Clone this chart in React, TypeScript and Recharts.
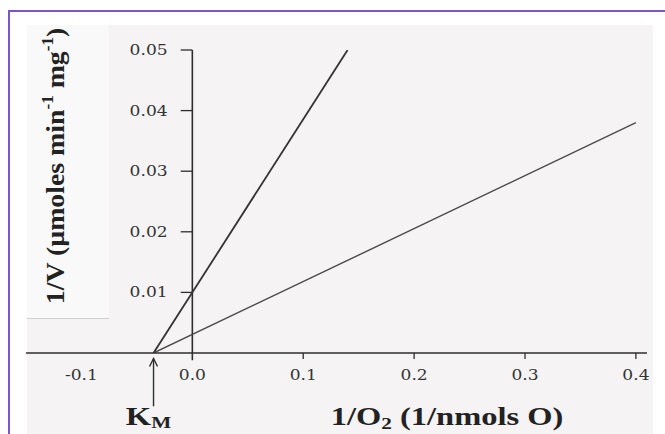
import { LineChart, Line, XAxis, YAxis, ReferenceLine } from 'recharts'

// Lineweaver-Burk plot
const km = -0.035

const steepX = [km, 0.14]
const steepY = [0, 0.05]
const shallowX = [km, 0.4]
const shallowY = [0, 0.038]

const xTicks = [-0.1, 0, 0.1, 0.2, 0.3, 0.4]
const xTickLabels = ['-0.1', '0.0', '0.1', '0.2', '0.3', '0.4']
const yTicks = [0.01, 0.02, 0.03, 0.04, 0.05]
const yTickLabels = ['0.01', '0.02', '0.03', '0.04', '0.05']

const steepData = steepX.map((x, i) => ({ x, y: steepY[i] }))
const shallowData = shallowX.map((x, i) => ({ x, y: shallowY[i] }))

const SERIF = '"Liberation Serif", "Times New Roman", serif'
const TICK_FONT = '"DejaVu Serif", serif'
const INK = '#2e2e2e'
const STRETCH = 1.14 // the scan is a bit wider than tall

function XTick(props: any) {
  const { x, y, payload } = props
  const idx = xTicks.indexOf(payload.value)
  const label = idx >= 0 ? xTickLabels[idx] : String(payload.value)
  const showMark = payload.value > 0
  return (
    <g>
      {showMark && <line x1={x} y1={y} x2={x} y2={y + 6} stroke={INK} strokeWidth={1.3} />}
      <text
        transform={`translate(${x},${y + 27}) scale(${STRETCH},1)`}
        textAnchor="middle"
        fontFamily={TICK_FONT}
        fontSize={15}
        fill="#333"
      >
        {label}
      </text>
    </g>
  )
}

function YTickLabel(props: any) {
  const { viewBox, text } = props
  if (!viewBox) return null
  return (
    <text
      transform={`translate(${viewBox.x - 13},${viewBox.y + 5}) scale(${STRETCH},1)`}
      textAnchor="end"
      fontFamily={TICK_FONT}
      fontSize={15}
      fill="#333"
    >
      {text}
    </text>
  )
}

function KmArrow(props: any) {
  const { x1, y1, y2 } = props
  const top = Math.min(y1, y2)
  const bottom = Math.max(y1, y2)
  return (
    <g>
      <line x1={x1} y1={top} x2={x1} y2={bottom} stroke={INK} strokeWidth={1.4} />
      <polyline
        points={`${x1 - 4},${top + 8} ${x1},${top} ${x1 + 4},${top + 8}`}
        fill="none"
        stroke={INK}
        strokeWidth={1.4}
      />
      <text
        transform={`translate(${x1 - 5},${bottom + 19}) scale(1.25,1)`}
        textAnchor="middle"
        fontFamily={SERIF}
        fontWeight="bold"
        fontSize={26}
        fill="#222"
      >
        K<tspan fontSize={17} dy={3}>M</tspan>
      </text>
    </g>
  )
}

export default function App() {
  return (
    <div style={{ position: 'absolute', left: 0, top: 0, width: 665, height: 434, background: '#fff', overflow: 'hidden' }}>
      {/* purple frame + scanned paper */}
      <div style={{ position: 'absolute', left: 8, top: 10, right: 0, bottom: 0, borderTop: '2px solid #7d55c4', borderLeft: '2px solid #7d55c4' }} />
      <div style={{ position: 'absolute', left: 27, top: 25, width: 626, height: 409, background: '#f5f3f4' }} />
      <div style={{ position: 'absolute', left: 27, top: 25, width: 82, height: 293, background: '#f9f9f9', borderBottom: '1px solid #d0d0d0' }} />

      <div style={{ position: 'absolute', left: 0, top: 0 }}>
        <LineChart width={665} height={434} margin={{ top: 50, right: 18, bottom: 41, left: 26 }}>
          <XAxis
            dataKey="x"
            type="number"
            domain={[-0.15, 0.41]}
            ticks={xTicks}
            height={40}
            tickSize={0}
            tickMargin={0}
            tickLine={false}
            axisLine={{ stroke: INK, strokeWidth: 1.6 }}
            tick={<XTick />}
            allowDataOverflow
          />
          <YAxis type="number" domain={[0, 0.05]} hide allowDataOverflow />

          {/* vertical axis through x = 0 */}
          <ReferenceLine
            segment={[{ x: 0, y: 0.05 }, { x: 0, y: -0.0012 }]}
            stroke={INK}
            strokeWidth={1.6}
            ifOverflow="visible"
          />
          {yTicks.map((v, i) => (
            <ReferenceLine
              key={v}
              segment={[{ x: -0.0105, y: v }, { x: 0, y: v }]}
              stroke={INK}
              strokeWidth={1.3}
              ifOverflow="visible"
              label={<YTickLabel text={yTickLabels[i]} />}
            />
          ))}

          <ReferenceLine
            segment={[{ x: km, y: -0.0009 }, { x: km, y: -0.0088 }]}
            ifOverflow="visible"
            shape={(p: any) => <KmArrow {...p} />}
          />

          <Line data={steepData} dataKey="y" type="linear" stroke="#333" strokeWidth={1.8} dot={false} isAnimationActive={false} />
          <Line data={shallowData} dataKey="y" type="linear" stroke="#4a4a4a" strokeWidth={1.4} dot={false} isAnimationActive={false} />
        </LineChart>
      </div>

      {/* axis titles */}
      <svg width={665} height={434} style={{ position: 'absolute', left: 0, top: 0, pointerEvents: 'none' }}>
        <text
          transform="translate(64,166) rotate(-90) scale(1.07,1)"
          textAnchor="middle"
          fontFamily={SERIF}
          fontWeight="bold"
          fontSize={26}
          fill="#222"
        >
          1/V (µmoles min<tspan fontSize={16} dy={-11}>-1</tspan>
          <tspan dy={11}> mg</tspan>
          <tspan fontSize={16} dy={-11}>-1</tspan>
          <tspan dy={11}>)</tspan>
        </text>
        <text
          transform="translate(447,425) scale(1.25,1)"
          textAnchor="middle"
          fontFamily={SERIF}
          fontWeight="bold"
          fontSize={26}
          fill="#222"
        >
          1/O<tspan fontSize={17} dy={4}>2</tspan>
          <tspan dy={-4}> (1/nmols O)</tspan>
        </text>
      </svg>
    </div>
  )
}
